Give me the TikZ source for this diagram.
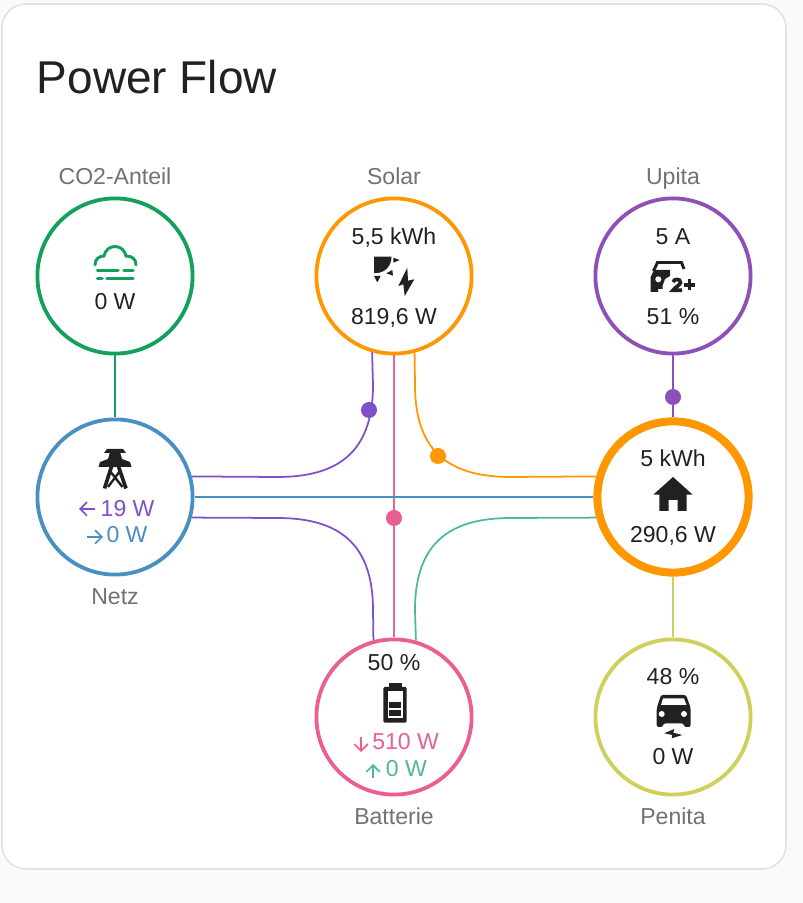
\documentclass[tikz,border=0pt]{standalone}
\usepackage{fontspec}
\setmainfont{Liberation Sans}
\usetikzlibrary{arrows.meta}
\definecolor{PFBack}{HTML}{FAFAFA}
\definecolor{PFEdge}{HTML}{E2E2E2}
\definecolor{PFInk}{HTML}{212121}
\definecolor{PFGray}{HTML}{727272}
\definecolor{PFGreen}{HTML}{12A05C}
\definecolor{PFOrange}{HTML}{FF9800}
\definecolor{PFPurple}{HTML}{8F4FB8}
\definecolor{PFViolet}{HTML}{7E50CC}
\definecolor{PFBlue}{HTML}{488FC2}
\definecolor{PFPink}{HTML}{EA5E92}
\definecolor{PFRose}{HTML}{DE6897}
\definecolor{PFTeal}{HTML}{4DB6A4}
\definecolor{PFLime}{HTML}{CFCF5C}
\tikzset{
  ring/.style={draw=#1,circle,minimum size=3.88cm,line width=2.7pt,inner sep=0pt},
  homering/.style={draw=#1,circle,minimum size=3.78cm,line width=5.7pt,inner sep=0pt},
  lbl/.style={anchor=base,inner sep=0pt,text=PFGray,font=\fontsize{16.4}{19}\selectfont},
  val/.style={anchor=base,inner sep=0pt,text=#1,font=\fontsize{16.4}{19}\selectfont},
  val/.default=PFInk,
  flowdot/.style={circle,fill=#1,minimum size=0.4cm,inner sep=0pt},
  iconpx/.style={x=0.25mm,y=-0.25mm},
  minitip/.style={line width=1.15pt,-{Straight Barb[length=1.7mm,width=3.4mm]}}
}
\begin{document}
\begin{tikzpicture}[line width=1.25pt]
\useasboundingbox (0,0) rectangle (20.075,22.575);
\fill[PFBack] (0,0) rectangle (20.075,22.575);
\draw[PFEdge,line width=1.1pt,fill=white,rounded corners=0.6cm] (0.05,0.85) rectangle (19.65,22.475);
\node[anchor=base west,inner sep=0pt,text=PFInk,font=\fontsize{32.7}{38}\selectfont] (title) at (0.9,20.225) {Power Flow};

% circles
\node[ring=PFGreen] (co2) at (2.875,15.675) {};
\node[ring=PFOrange] (solar) at (9.85,15.675) {};
\node[ring=PFPurple] (upita) at (16.825,15.675) {};
\node[ring=PFBlue] (netz) at (2.875,10.15) {};
\node[homering=PFOrange] (home) at (16.825,10.15) {};
\node[ring=PFPink] (batt) at (9.85,4.65) {};
\node[ring=PFLime] (penita) at (16.825,4.65) {};

% captions
\node[lbl] (co2lbl) at (2.875,17.95) {CO2-Anteil};
\node[lbl] (solarlbl) at (9.85,17.95) {Solar};
\node[lbl] (upitalbl) at (16.825,17.95) {Upita};
\node[lbl] (netzlbl) at (2.875,7.45) {Netz};
\node[lbl] (battlbl) at (9.85,1.95) {Batterie};
\node[lbl] (penitalbl) at (16.825,1.95) {Penita};

% values
\node[val] (co2val) at (2.875,14.825) {0 W};
\node[val] (solartop) at (9.85,16.45) {5,5 kWh};
\node[val] (solarval) at (9.85,14.45) {819,6 W};
\node[val] (upitatop) at (16.825,16.45) {5 A};
\node[val] (upitaval) at (16.825,14.45) {51 \%};
\node[val=PFViolet] (netzin) at (3.19,9.65) {19 W};
\node[val=PFBlue] (netzout) at (3.175,9.0) {0 W};
\node[val] (hometop) at (16.825,10.9) {5 kWh};
\node[val] (homeval) at (16.825,9.0) {290,6 W};
\node[val] (batttop) at (9.85,5.8) {50 \%};
\node[val=PFPink] (battin) at (10.14,3.825) {510 W};
\node[val=PFTeal] (battout) at (10.16,3.15) {0 W};
\node[val] (penitatop) at (16.825,5.45) {48 \%};
\node[val] (penitaval) at (16.825,3.45) {0 W};

% small arrows
\draw[minitip,draw=PFViolet] (2.375,9.85) -- (1.975,9.85);
\draw[minitip,draw=PFBlue] (2.175,9.15) -- (2.575,9.15);
\draw[minitip,draw=PFPink] (9.025,4.15) -- (9.025,3.775);
\draw[minitip,draw=PFTeal] (9.325,3.125) -- (9.325,3.475);

% flows
\draw[PFGreen] (co2.south) -- (netz.north);
\draw[PFPurple] (upita.south) -- (home.north);
\draw[PFLime] (home.south) -- (penita.north);
\draw[PFRose] (solar.south) -- (batt.north);
\draw[PFBlue] (netz.east) -- (home.west);
\draw[PFViolet] (solar.254.4) -- (9.325,12.95) .. controls (9.325,11.2) and (8.375,10.65) .. (6.925,10.65) -- (netz.15);
\draw[PFOrange] (solar.285.6) -- (10.375,12.95) .. controls (10.375,11.2) and (11.325,10.65) .. (12.775,10.65) -- (home.165);
\draw[PFViolet] (netz.-15) -- (6.925,9.625) .. controls (8.375,9.625) and (9.325,9.075) .. (9.325,7.325) -- (batt.105.6);
\draw[PFTeal] (home.195) -- (12.775,9.625) .. controls (11.325,9.625) and (10.375,9.075) .. (10.375,7.325) -- (batt.74.4);

% dots
\node[flowdot=PFViolet] (dotsolarnetz) at (9.225,12.325) {};
\node[flowdot=PFOrange] (dotsolarhome) at (10.95,11.175) {};
\node[flowdot=PFPink] (dotsolarbatt) at (9.85,9.625) {};
\node[flowdot=PFPurple] (dotupita) at (16.825,12.65) {};

% icons
\begin{scope}[shift={(co2.center)},iconpx,draw=PFGreen,line cap=round]
\draw[line width=2.1pt] (-20,-11) .. controls (-20,-17) and (-16,-20) .. (-11,-20) .. controls (-10,-26) and (-5,-29.5) .. (0,-29.5) .. controls (6,-29.5) and (10,-25) .. (11,-20) .. controls (17,-20) and (21,-17) .. (21,-11);
\draw[line width=2.5pt] (-17.5,-5.5) -- (3,-5.5) (9,-5.5) -- (18,-5.5) (-17.5,2.5) -- (-13,2.5) (-8,2.5) -- (18,2.5);
\end{scope}
\begin{scope}[shift={(solar.center)},iconpx]
\fill[PFInk] (-20,-19.3) -- (-2.5,-19.3) .. controls (-2.5,-10) and (-9,-3.5) .. (-17,-3) -- (-20,-3) -- cycle;
\fill[PFInk] (-0.7,-18.3) -- (5.7,-16) -- (-0.7,-13.3) -- cycle;
\fill[PFInk] (-7.7,-2.7) -- (-1.7,-6) -- (-1,-0.3) -- cycle;
\fill[PFInk] (-20,0) -- (-13.3,0) -- (-16.7,6.3) -- cycle;
\fill[PFInk] (13.3,-8.3) -- (4.3,10) -- (9.3,8.3) -- (10.7,20) -- (20.3,3.3) -- (14,4.7) -- cycle;
\end{scope}
\begin{scope}[shift={(upita.center)},iconpx]
\fill[PFInk] (-22.3,1) -- (-19,-6) -- (-3,-6) -- (-3,0) -- (-8,3) -- (-10.5,10) -- (-10.5,13) -- (-15,13) -- (-15,16) -- (-22.3,16) -- cycle;
\fill[white] (-14.7,3.3) circle[radius=3];
\draw[PFInk,line width=2.1pt] (-19.5,-5) -- (-15.5,-13.5) -- (8.5,-13.5) -- (11,-7);
\draw[PFInk,line width=2.6pt] (0,6) .. controls (1,2.5) and (7.5,2.5) .. (7.5,6.5) .. controls (7.5,9) and (2,11) .. (0,14.3) -- (9,14.3);
\draw[PFInk,line width=2.5pt] (11,9) -- (22,9) (16.5,3.5) -- (16.5,14.5);
\end{scope}
\begin{scope}[shift={(netz.center)},iconpx]
\fill[PFInk] (-8,-48) -- (8,-48) -- (11,-44) -- (-11,-44) -- cycle;
\fill[PFInk] (-5,-45) -- (5,-45) -- (7,-38) -- (15,-35) -- (16.5,-30) -- (-16.5,-30) -- (-15,-35) -- (-7,-38) -- cycle;
\draw[PFInk,line width=2.6pt] (-3,-32) -- (-10.5,-8.5) (3,-32) -- (11,-8.5);
\draw[PFInk,line width=1.7pt] (-5,-26) -- (7.5,-10) (5,-26) -- (-7,-10);
\end{scope}
\begin{scope}[shift={(home.center)},iconpx]
\fill[PFInk] (0,-20) -- (19.7,-2.3) -- (13.7,-2.3) -- (13.7,14) -- (4.5,14) -- (4.5,3) -- (-4.5,3) -- (-4.5,14) -- (-13.7,14) -- (-13.7,-2.3) -- (-19.7,-2.3) -- cycle;
\end{scope}
\begin{scope}[shift={(batt.center)},iconpx]
\fill[PFInk,rounded corners=1pt] (-10.7,-30) rectangle (12.7,5.7);
\fill[PFInk] (-4.7,-34) rectangle (7.7,-29);
\fill[white] (-6.3,-25.7) rectangle (8.7,1);
\fill[PFInk] (-4.7,-15) rectangle (7,-9);
\fill[PFInk] (-4.7,-6.7) rectangle (7,-0.7);
\end{scope}
\begin{scope}[shift={(penita.center)},iconpx]
\fill[PFInk,rounded corners=1.5pt] (-12,-22) -- (13,-22) -- (17.7,-9) -- (17.7,10) -- (11,10) -- (11,6.5) -- (-10,6.5) -- (-10,10) -- (-16.3,10) -- (-16.3,-9) -- cycle;
\fill[white] (-10,-18.5) -- (11,-18.5) -- (13.5,-12) -- (-12,-12) -- cycle;
\fill[white] (-11.3,-3) circle[radius=3] (11,-3) circle[radius=3];
\fill[PFInk] (-8.7,16.3) -- (1.3,12) -- (0.3,15.7) -- (9.3,18) -- (-1.3,21.3) -- (-0.7,18) -- cycle;
\end{scope}
\end{tikzpicture}
\end{document}
